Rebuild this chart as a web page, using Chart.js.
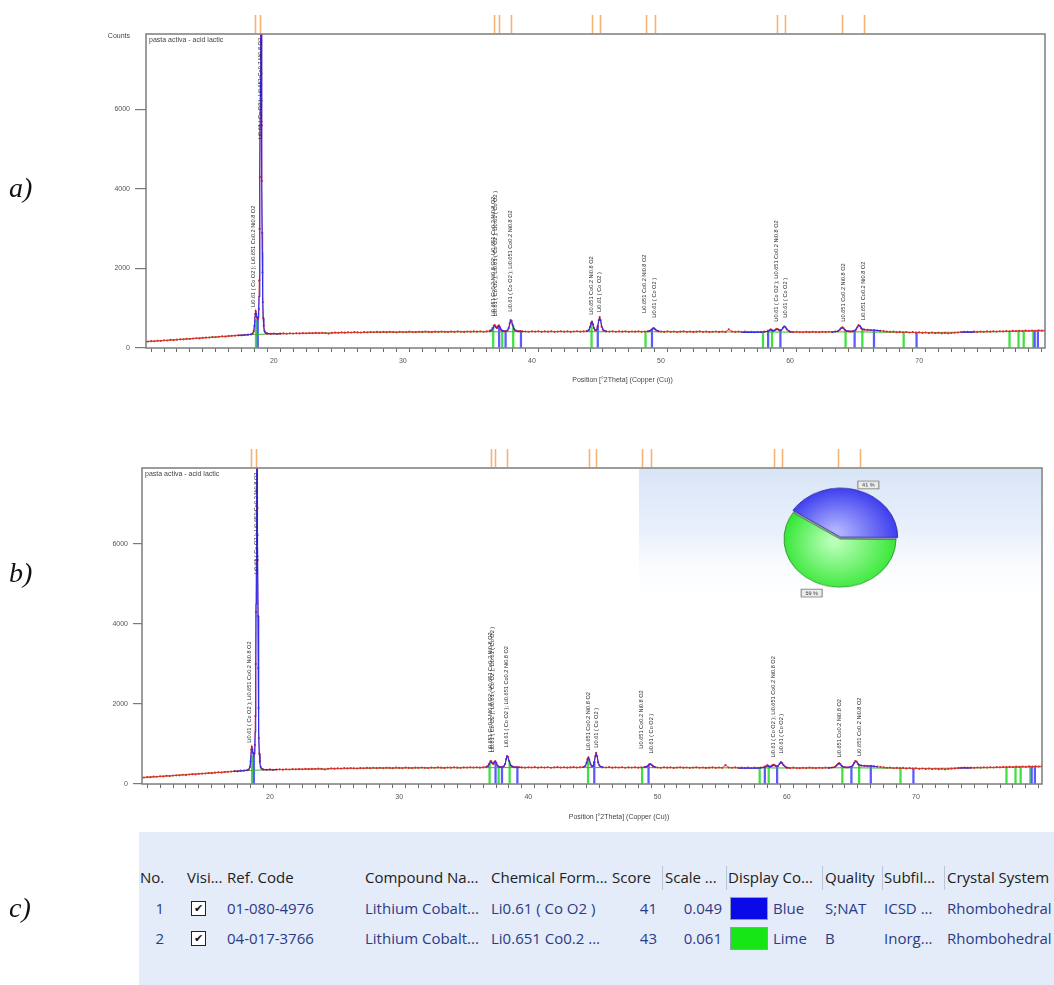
<!DOCTYPE html>
<html><head><meta charset="utf-8">
<script src="https://cdn.jsdelivr.net/npm/chart.js@4.4.1/dist/chart.umd.min.js"></script>
<style>
html,body{margin:0;padding:0;background:#fff;}
#page{position:relative;width:1054px;height:985px;overflow:hidden;background:#fff;}
#page canvas{position:absolute;}
.panel{position:absolute;left:9px;font-family:'Liberation Serif','Times New Roman',serif;font-style:italic;font-size:28px;color:#111;line-height:32px;}
#tbl{position:absolute;left:139px;top:832px;width:915px;height:153px;background:#e4ecf9;font-family:'Open Sans',sans-serif;font-size:15px;overflow:hidden;}
#tbl .c{position:absolute;white-space:nowrap;line-height:20px;}
#tbl .sep{position:absolute;width:1px;background:#b9c5d8;}
#tbl .chk{position:absolute;width:13px;height:13px;border:1px solid #222;background:#fff;font-family:'DejaVu Sans',sans-serif;font-size:11px;font-weight:bold;line-height:13px;text-align:center;color:#111;}
#tbl .sw{position:absolute;width:36px;height:21px;border:1px solid #8d9cb8;}
</style></head>
<body>
<div id="page">
  <canvas id="chartA" width="1054" height="400" style="left:0;top:0;width:1054px;height:400px"></canvas>
  <canvas id="chartB" width="1054" height="400" style="left:0;top:434px;width:1054px;height:400px"></canvas>
  <canvas id="pie" width="170" height="170" style="left:755px;top:454px;width:170px;height:170px;transform:scaleY(0.86);transform-origin:50% 50%"></canvas>
  <div class="panel" style="top:172px">a)</div>
  <div class="panel" style="top:557px">b)</div>
  <div class="panel" style="top:892px">c)</div>
  <div id="tbl"></div>
</div>
<script>
// ---------------- DATA ----------------
const sampleName = 'pasta activa - acid lactic';
const xAxisTitle = 'Position [°2Theta] (Copper (Cu))';
const yAxisTitle = 'Counts';
const yTickValues = [0, 2000, 4000, 6000];
const xTickLabels = [20, 30, 40, 50, 60, 70];

// observed pattern [2theta, counts]
const observed = [
[10.00,158],[10.25,163],[10.50,171],[10.75,170],[11.00,183],[11.25,181],[11.50,192],[11.75,189],[12.00,205],[12.25,199],
[12.50,210],[12.75,216],[13.00,218],[13.25,231],[13.50,226],[13.75,238],[14.00,245],[14.25,241],[14.50,256],[14.75,259],
[15.00,262],[15.25,274],[15.50,270],[15.75,283],[16.00,291],[16.25,287],[16.50,300],[16.75,306],[17.00,311],[17.25,320],
[17.50,318],[17.75,332],[18.00,336],[18.25,345],
[18.35,362],[18.45,420],[18.50,560],[18.55,860],[18.60,930],[18.65,860],[18.70,770],[18.75,735],[18.80,760],[18.84,980],
[18.87,1700],[18.90,3000],[18.92,4300],[18.94,5600],[18.96,6800],[18.98,7700],[19.00,8300],[19.02,7900],[19.04,6900],
[19.06,5600],[19.08,4200],[19.10,2900],[19.12,1900],[19.15,1150],[19.18,760],[19.22,560],[19.28,430],[19.35,385],[19.45,366],
[19.50,360],[19.75,356],[20.00,364],[20.25,352],[20.50,361],[20.75,366],[21.00,359],[21.25,368],[21.50,363],[21.75,370],
[22.00,366],[22.25,374],[22.50,369],[22.75,377],[23.00,372],[23.25,380],[23.50,375],[23.75,383],[24.00,377],[24.25,362],
[24.50,381],[24.75,389],[25.00,384],[25.25,391],[25.50,386],[25.75,395],[26.00,390],[26.25,398],[26.50,392],[26.75,388],
[27.00,399],[27.25,394],[27.50,402],[27.75,396],[28.00,405],[28.25,398],[28.50,404],[28.75,397],[29.00,406],[29.25,401],
[29.50,395],[29.75,408],[30.00,402],[30.25,398],[30.50,410],[30.75,403],[31.00,399],[31.25,409],[31.50,404],[31.75,412],
[32.00,405],[32.25,400],[32.50,411],[32.75,406],[33.00,414],[33.25,407],[33.50,402],[33.75,412],[34.00,408],[34.25,416],
[34.50,409],[34.75,405],[35.00,415],[35.25,410],[35.50,418],[35.75,411],[36.00,416],[36.25,409],[36.50,418],[36.75,430],
[36.85,450],[36.95,500],[37.05,560],[37.12,575],[37.20,530],[37.28,500],[37.36,545],[37.44,570],[37.52,520],[37.60,460],
[37.70,430],[37.80,425],[37.90,420],[38.00,428],[38.10,440],[38.20,500],[38.28,620],[38.35,700],[38.42,680],[38.50,580],
[38.60,480],[38.70,445],[38.80,430],[38.95,420],[39.10,425],[39.25,418],
[39.50,415],[39.75,409],[40.00,418],[40.25,412],[40.50,420],[40.75,407],[41.00,416],[41.25,411],[41.50,419],[41.75,406],
[42.00,414],[42.25,420],[42.50,410],[42.75,417],[43.00,408],[43.25,415],[43.50,421],[43.75,411],[44.00,418],[44.25,425],
[44.40,450],[44.50,530],[44.58,620],[44.65,665],[44.72,600],[44.80,500],[44.90,445],[45.00,450],[45.10,540],[45.18,700],
[45.25,780],[45.32,700],[45.40,540],[45.50,460],[45.62,430],
[45.75,418],[46.00,412],[46.25,420],[46.50,409],[46.75,416],[47.00,411],[47.25,419],[47.50,406],[47.75,415],[48.00,410],
[48.25,418],[48.50,408],[48.75,415],[49.00,420],
[49.15,430],[49.25,455],[49.35,490],[49.45,500],[49.55,470],[49.65,440],[49.78,420],
[50.00,412],[50.25,405],[50.50,416],[50.75,408],[51.00,414],[51.25,403],[51.50,411],[51.75,418],[52.00,407],[52.25,413],
[52.50,404],[52.75,410],[53.00,416],[53.25,406],[53.50,412],[53.75,402],[54.00,409],[54.25,415],[54.50,405],[54.75,412],
[55.00,404],[55.25,470],[55.50,412],[55.75,406],[56.00,414],[56.25,403],[56.50,410],[56.75,402],[57.00,408],[57.25,400],
[57.50,409],[57.75,404],[58.00,411],[58.25,420],
[58.40,440],[58.50,470],[58.60,450],[58.70,430],[58.80,445],[58.90,470],[59.00,480],[59.10,460],[59.20,440],[59.30,450],
[59.45,510],[59.55,545],[59.65,520],[59.75,470],[59.90,430],
[60.00,405],[60.25,398],[60.50,407],[60.75,400],[61.00,396],[61.25,405],[61.50,399],[61.75,408],[62.00,401],[62.25,397],
[62.50,406],[62.75,400],[63.00,409],[63.25,403],[63.50,412],
[63.70,425],[63.85,460],[63.95,500],[64.05,520],[64.15,495],[64.25,450],[64.40,425],
[64.55,418],[64.70,412],[64.85,420],[65.00,430],
[65.10,460],[65.20,520],[65.30,575],[65.40,560],[65.50,500],[65.60,470],[65.75,460],
[66.00,455],[66.25,448],[66.50,452],[66.75,440],[67.00,432],
[67.25,425],[67.50,414],[67.75,406],[68.00,412],[68.25,398],[68.50,405],[68.75,396],[69.00,402],[69.25,390],[69.50,398],
[69.75,386],[70.00,392],[70.25,380],[70.50,388],[70.75,376],[71.00,385],[71.25,372],[71.50,381],[71.75,370],[72.00,379],
[72.25,368],[72.50,377],[72.75,384],[73.00,390],[73.25,398],[73.50,404],[73.75,408],[74.00,402],[74.25,410],[74.50,404],
[74.75,413],[75.00,407],[75.25,416],[75.50,410],[75.75,419],[76.00,413],[76.25,422],[76.50,416],[76.75,426],[77.00,420],
[77.25,430],[77.50,424],[77.75,433],[78.00,428],[78.25,437],[78.50,431],[78.75,440],[79.00,434],[79.25,443],[79.50,438],
[79.75,446],[80.00,441]
];

// calculated profile (fitted ranges only), null = gap between ranges
const calculated = [
[17.2,315],[17.6,325],[18.0,335],[18.3,350],[18.4,380],[18.48,480],[18.55,800],[18.6,900],[18.65,840],[18.7,760],[18.76,740],
[18.82,800],[18.86,1300],[18.9,2800],[18.93,4500],[18.96,6700],[18.98,7800],[19.0,8400],[19.02,7900],[19.05,6300],[19.08,4200],
[19.11,2400],[19.14,1300],[19.18,750],[19.23,500],[19.3,400],[19.45,368],[19.8,360],[20.2,358],[20.6,362],[20.7,null],
[36.7,412],[36.9,440],[37.0,510],[37.1,565],[37.2,520],[37.3,505],[37.42,560],[37.5,540],[37.6,470],[37.75,430],[37.9,420],
[38.1,435],[38.22,520],[38.33,690],[38.42,670],[38.52,560],[38.65,460],[38.85,425],[39.1,418],[39.4,415],[39.5,null],
[44.2,415],[44.4,440],[44.5,520],[44.6,640],[44.66,660],[44.75,570],[44.85,470],[44.95,440],[45.05,470],[45.15,640],[45.24,760],
[45.32,690],[45.42,520],[45.55,440],[45.8,418],[45.9,null],
[48.9,412],[49.2,440],[49.35,485],[49.45,495],[49.58,460],[49.9,415],[50.0,null],
[56.3,392],[57.0,394],[57.8,396],[58.3,420],[58.45,455],[58.6,440],[58.75,430],[58.95,465],[59.05,470],[59.2,440],[59.35,455],
[59.5,530],[59.6,540],[59.72,480],[59.9,425],[60.2,398],[60.3,null],
[63.2,398],[63.7,420],[63.9,480],[64.05,515],[64.2,470],[64.4,425],[64.8,418],[65.05,445],[65.2,510],[65.32,565],[65.45,540],
[65.6,480],[65.8,460],[66.2,452],[66.6,448],[67.0,430],[67.1,null],
[73.3,400],[73.8,402],[74.3,400]
];

// background line
const background = [
[10,155],[12,200],[14,245],[16,290],[18,332],[19,345],[20,355],[22,365],[25,382],[28,396],[30,400],[35,407],[40,410],
[45,410],[50,408],[55,405],[60,401],[65,405],[70,390],[75,404],[80,430]
];

// reference patterns (stick positions and heights)
const phase1Name = 'Li0.61 ( Co O2 )';
const phase1Theta  = [18.76, 37.46, 37.96, 39.15, 45.10, 49.30, 58.30, 59.25, 65.00, 66.50, 69.80, 78.95, 79.20];
const phase1Counts = [760, 550, 425, 418, 560, 470, 450, 440, 420, 450, 398, 436, 440];
const phase2Name = 'Li0.651 Co0.2 Ni0.8 O2';
const phase2Theta  = [18.62, 37.00, 37.70, 38.55, 44.62, 48.80, 57.90, 58.60, 64.30, 65.60, 68.80, 77.00, 77.70, 78.10, 78.85];
const phase2Counts = [710, 520, 445, 560, 640, 412, 405, 450, 440, 480, 400, 420, 430, 430, 436];

// peak marker positions shown above the plot
const markerTheta = [18.55, 18.92, 37.10, 37.42, 38.38, 44.68, 45.27, 48.80, 49.50, 59.00, 59.62, 64.00, 65.70];

// peak annotations
const peakLabelTheta  = [18.42, 18.97, 37.05, 37.20, 38.30, 44.62, 45.25, 48.75, 49.50, 58.95, 59.62, 64.10, 65.65];
const peakLabelCounts = [1030, 5250, 790, 790, 915, 835, 905, 880, 760, 660, 760, 660, 700];
const peakLabelText = [
 'Li0.61 ( Co O2 ); Li0.651 Co0.2 Ni0.8 O2',
 'Li0.61 ( Co O2 ); Li0.651 Co0.2 Ni0.8 O2',
 'Li0.651 Co0.2 Ni0.8 O2; Li0.651 Co0.2 Ni0.8 O2',
 'Li0.61 ( Co O2 ); Li0.61 ( Co O2 ); Li0.61 ( Co O2 )',
 'Li0.61 ( Co O2 ); Li0.651 Co0.2 Ni0.8 O2',
 'Li0.651 Co0.2 Ni0.8 O2',
 'Li0.61 ( Co O2 )',
 'Li0.651 Co0.2 Ni0.8 O2',
 'Li0.61 ( Co O2 )',
 'Li0.61 ( Co O2 ); Li0.651 Co0.2 Ni0.8 O2',
 'Li0.61 ( Co O2 )',
 'Li0.651 Co0.2 Ni0.8 O2',
 'Li0.651 Co0.2 Ni0.8 O2'
];

// semi-quantitative pie
const pieNames = [phase1Name, phase2Name];
const pieValues = [41, 59];
const pieLabels = ['41 %', '59 %'];

// table
const tableHeaders = ['No.','Visi...','Ref. Code','Compound Na...','Chemical Form...','Score','Scale ...','Display Co...','Quality','Subfil...','Crystal System'];
const tableRows = [
 ['1', true, '01-080-4976', 'Lithium Cobalt...', 'Li0.61 ( Co O2 )', '41', '0.049', 'Blue', 'S;NAT', 'ICSD ...', 'Rhombohedral'],
 ['2', true, '04-017-3766', 'Lithium Cobalt...', 'Li0.651 Co0.2 ...', '43', '0.061', 'Lime', 'B', 'Inorg...', 'Rhombohedral']
];
const swatchColors = ['#0a0ae8', '#16e616'];

// ---------------- CHARTS ----------------
const X_MIN = 10.1, X_MAX = 79.75, Y_MAX = 7900;
const pts = arr => arr.map(p => ({x: p[0], y: p[1]}));
const sticks = (t, c) => t.map((v, i) => ({x: v, y: c[i]}));

function xrdPlugin(cfg) {
  return {
    id: 'xrdDecor',
    beforeDatasetsDraw(chart) {
      if (!cfg.gradientBox) return;
      const ctx = chart.ctx, a = chart.chartArea;
      const x0 = cfg.gradientBox.left, h = cfg.gradientBox.height;
      const g = ctx.createLinearGradient(0, a.top, 0, a.top + h);
      g.addColorStop(0, '#d8e5f7');
      g.addColorStop(0.45, '#e9f0fb');
      g.addColorStop(1, 'rgba(255,255,255,0)');
      ctx.save(); ctx.fillStyle = g; ctx.fillRect(x0, a.top + 1, a.right - x0 - 1, h); ctx.restore();
    },
    afterDatasetsDraw(chart) {
      const ctx = chart.ctx, a = chart.chartArea, xs = chart.scales.x, ys = chart.scales.y;
      ctx.save();
      // peak labels
      ctx.fillStyle = '#262626';
      ctx.font = '5.6px "Liberation Sans", Arial, sans-serif';
      ctx.textAlign = 'left'; ctx.textBaseline = 'middle';
      peakLabelTheta.forEach((t, i) => {
        ctx.save();
        ctx.translate(xs.getPixelForValue(t), ys.getPixelForValue(peakLabelCounts[i]));
        ctx.rotate(-Math.PI / 2);
        ctx.fillText(peakLabelText[i], 0, 0);
        ctx.restore();
      });
      // frame
      ctx.strokeStyle = '#7c7c7c'; ctx.lineWidth = 1.5;
      ctx.strokeRect(a.left, a.top, a.right - a.left, a.bottom - a.top);
      // markers above plot
      ctx.strokeStyle = 'rgba(244,165,90,0.85)'; ctx.lineWidth = 1.6;
      markerTheta.forEach(t => {
        const x = Math.round(xs.getPixelForValue(t)) + 0.5;
        ctx.beginPath(); ctx.moveTo(x, a.top - 19); ctx.lineTo(x, a.top - 1); ctx.stroke();
      });
      // texts
      ctx.fillStyle = '#444';
      ctx.font = '7px "Liberation Sans", Arial, sans-serif';
      ctx.textAlign = 'left'; ctx.textBaseline = 'middle';
      ctx.fillText(sampleName, a.left + 3, a.top + 6);
      if (cfg.showCounts) { ctx.textAlign = 'right'; ctx.fillText(yAxisTitle, a.left - 16, a.top + 2); }
      ctx.textAlign = 'center';
      ctx.fillText(xAxisTitle, (a.left + a.right) / 2 + 27, a.bottom + cfg.titleDy);
      ctx.restore();
    }
  };
}

function makeXrd(id, cfg) {
  return new Chart(document.getElementById(id), {
    type: 'line',
    data: {
      datasets: [
        {type: 'bar', label: phase2Name, data: sticks(phase2Theta, phase2Counts), backgroundColor: '#3fe03f', barThickness: 1.6, grouped: false, order: 10},
        {type: 'bar', label: phase1Name, data: sticks(phase1Theta, phase1Counts), backgroundColor: '#5a5aff', barThickness: 1.6, grouped: false, order: 9},
        {label: 'Background', data: pts(background), borderColor: '#2fb82f', borderWidth: 1, pointRadius: 0, tension: 0.3, order: 8},
        {label: 'Observed', data: pts(observed), borderColor: '#e63a3a', borderWidth: 0.9, pointRadius: 1.1, pointBackgroundColor: '#e02a2a', pointBorderWidth: 0, order: 6},
        {label: 'Calculated', data: pts(calculated), borderColor: '#2d2df0', borderWidth: 1.1, pointRadius: 0, spanGaps: false, order: 4}
      ]
    },
    options: {
      responsive: false, animation: false, maintainAspectRatio: false,
      layout: {padding: {top: cfg.padTop, right: cfg.padRight, left: 0, bottom: 0}},
      plugins: {legend: {display: false}, tooltip: {enabled: false}},
      scales: {
        x: {
          type: 'linear', min: X_MIN, max: X_MAX, offset: false,
          afterFit: s => { s.height = cfg.xAxisH; },
          afterBuildTicks: s => { const t = []; for (let v = Math.ceil(X_MIN); v <= X_MAX; v++) t.push({value: v}); s.ticks = t; },
          ticks: {autoSkip: false, maxRotation: 0, padding: 5, color: '#555', font: {size: 7, family: 'Liberation Sans'},
                  callback: v => xTickLabels.includes(v) ? String(v) : ''},
          grid: {drawOnChartArea: false, tickLength: 4, color: '#6a6a6a', lineWidth: 1},
          border: {display: false}
        },
        y: {
          min: 0, max: Y_MAX,
          afterFit: s => { s.width = cfg.yAxisW; },
          afterBuildTicks: s => { s.ticks = yTickValues.map(v => ({value: v})); },
          ticks: {padding: 5, color: '#555', font: {size: 7, family: 'Liberation Sans'}, callback: v => String(v)},
          grid: {drawOnChartArea: false, tickLength: cfg.yTick, color: '#7a7a7a', lineWidth: 1.2},
          border: {display: false}
        }
      }
    },
    plugins: [xrdPlugin(cfg)]
  });
}

makeXrd('chartA', {padTop: 34, padRight: 9, xAxisH: 52, yAxisW: 146, yTick: 11, showCounts: true, titleDy: 32});
makeXrd('chartB', {padTop: 34, padRight: 12, xAxisH: 50, yAxisW: 142, yTick: 9, showCounts: false, titleDy: 33,
                   gradientBox: {left: 639, height: 140}});

// ---------------- PIE ----------------
function radial(c, cx, cy, inner, outer) {
  const g = c.createRadialGradient(cx - 6, cy - 4, 4, cx, cy, 60);
  g.addColorStop(0, inner); g.addColorStop(1, outer); return g;
}
const pieDecor = {
  id: 'pieDecor',
  beforeDatasetsDraw(chart) {
    const ctx = chart.ctx;
    const arc = chart.getDatasetMeta(0).data[0];
    const p = arc.getProps(['x', 'y', 'startAngle', 'endAngle', 'outerRadius'], true);
    ctx.save();
    ctx.beginPath(); ctx.moveTo(p.x, p.y); ctx.arc(p.x, p.y, p.outerRadius, p.startAngle, p.endAngle); ctx.closePath();
    ctx.fillStyle = '#9b9ea3'; ctx.fill(); ctx.strokeStyle = '#707070'; ctx.lineWidth = 1; ctx.stroke();
    ctx.restore();
  },
  afterDatasetsDraw(chart) {
    const ctx = chart.ctx;
    const arcs = chart.getDatasetMeta(0).data;
    ctx.save();
    ctx.font = '5.5px "Liberation Sans", Arial, sans-serif';
    ctx.textAlign = 'center'; ctx.textBaseline = 'middle';
    arcs.forEach((arc, i) => {
      const p = arc.getProps(['x', 'y', 'startAngle', 'endAngle', 'outerRadius'], true);
      const mid = (p.startAngle + p.endAngle) / 2 + 7.5 * Math.PI / 180;
      const lx = p.x + Math.cos(mid) * p.outerRadius * 1.23, ly = p.y + Math.sin(mid) * p.outerRadius * 1.23;
      ctx.fillStyle = '#ececec'; ctx.strokeStyle = '#7d7d7d'; ctx.lineWidth = 1;
      ctx.fillRect(lx - 10.5, ly - 4.5, 21, 9); ctx.strokeRect(lx - 10.5, ly - 4.5, 21, 9);
      ctx.fillStyle = '#333'; ctx.fillText(pieLabels[i], lx, ly + 0.5);
    });
    ctx.restore();
  }
};
new Chart(document.getElementById('pie'), {
  type: 'pie',
  data: {
    labels: pieNames,
    datasets: [{
      data: pieValues,
      backgroundColor: ctx => {
        const a = ctx.chart.chartArea; if (!a) return '#888';
        const cx = (a.left + a.right) / 2, cy = (a.top + a.bottom) / 2;
        return ctx.dataIndex === 0 ? radial(ctx.chart.ctx, cx, cy, '#b3b6ff', '#3838ee') : radial(ctx.chart.ctx, cx, cy + 6, '#b9ffb9', '#2ee62e');
      },
      borderColor: ['#3636a8', '#3a9a3a'],
      borderWidth: 1,
      offset: [9, 0]
    }]
  },
  options: {
    responsive: false, animation: false, radius: 56, rotation: -57,
    layout: {padding: 0},
    plugins: {legend: {display: false}, tooltip: {enabled: false}}
  },
  plugins: [pieDecor]
});

// ---------------- TABLE ----------------
(function buildTable() {
  const tbl = document.getElementById('tbl');
  const L = 139, T = 832;
  const add = (html, cls, style) => { const d = document.createElement('div'); d.className = cls; d.style.cssText = style; d.innerHTML = html; tbl.appendChild(d); return d; };
  const hdrX = [140, 187, 227, 365, 491, 612, 665, 728, 825, 884, 947];
  const hdrY = 877, rowY = [908, 938];
  tableHeaders.forEach((h, i) => add(h, 'c', `left:${hdrX[i] - L}px;top:${hdrY - T - 10}px;color:#202020`));
  [662, 726, 822, 882, 944].forEach(x => add('', 'sep', `left:${x - L}px;top:${866 - T}px;height:24px`));
  const rowColor = '#2c3a86';
  tableRows.forEach((r, k) => {
    const cy = rowY[k] - T, ty = cy - 10;
    add(r[0], 'c', `left:${140 - L}px;width:${24}px;text-align:right;top:${ty}px;color:${rowColor}`);
    if (r[1]) add('✔', 'chk', `left:${191 - L}px;top:${cy - 7}px`);
    add(r[2], 'c', `left:${227 - L}px;top:${ty}px;color:${rowColor}`);
    add(r[3], 'c', `left:${365 - L}px;top:${ty}px;color:${rowColor}`);
    add(r[4], 'c', `left:${491 - L}px;top:${ty}px;color:${rowColor}`);
    add(r[5], 'c', `left:${617 - L}px;width:40px;text-align:right;top:${ty}px;color:${rowColor}`);
    add(r[6], 'c', `left:${672 - L}px;width:50px;text-align:right;top:${ty}px;color:${rowColor}`);
    add('', 'sw', `left:${730 - L}px;top:${cy - 11.5}px;background:${swatchColors[k]}`);
    add(r[7], 'c', `left:${773 - L}px;top:${ty}px;color:${rowColor}`);
    add(r[8], 'c', `left:${825 - L}px;top:${ty}px;color:${rowColor}`);
    add(r[9], 'c', `left:${884 - L}px;top:${ty}px;color:${rowColor}`);
    add(r[10], 'c', `left:${947 - L}px;top:${ty}px;color:${rowColor}`);
  });
})();
</script>
</body></html>
